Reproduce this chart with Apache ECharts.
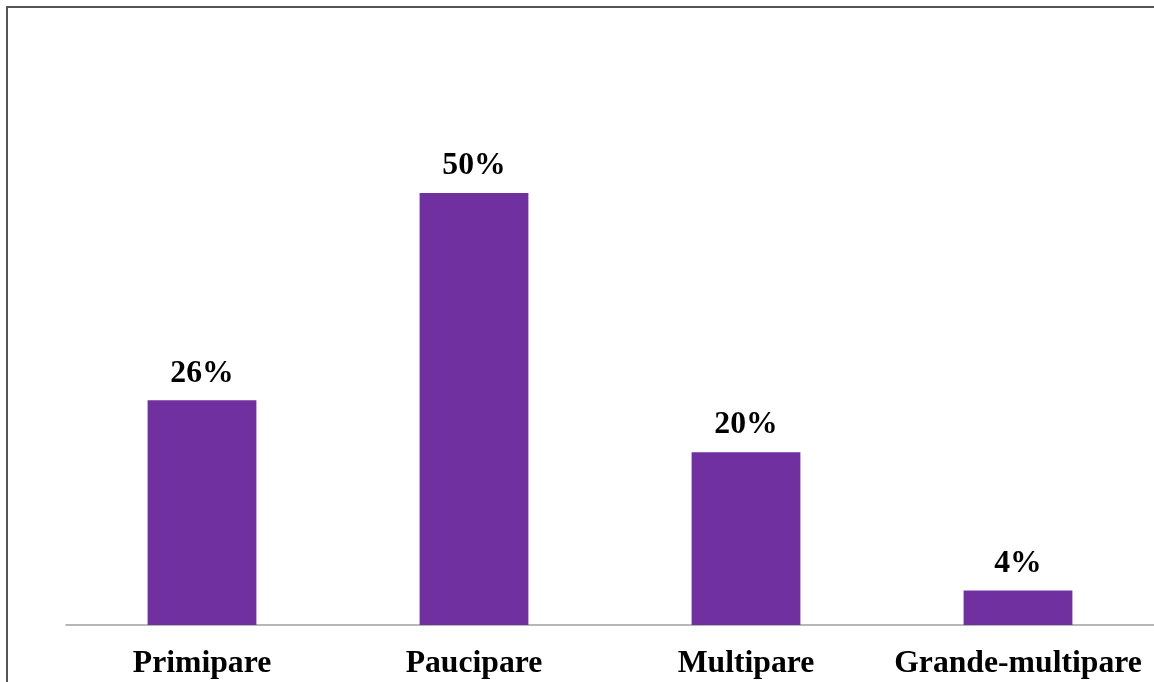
<!DOCTYPE html>
<html>
<head>
<meta charset="utf-8">
<script src="https://cdn.jsdelivr.net/npm/echarts@6/dist/echarts.min.js"></script>
<style>
html,body{margin:0;padding:0;background:#fff;}
#frame{position:absolute;left:6px;top:6px;width:1160px;height:690px;border-top:2px solid #555;border-left:2px solid #555;box-sizing:border-box;}
#chart{position:absolute;left:0;top:0;width:1154px;height:682px;}
</style>
</head>
<body>
<div id="frame"></div>
<div id="chart"></div>
<script>
const categories = ['Primipare', 'Paucipare', 'Multipare', 'Grande-multipare'];
const values = [26, 50, 20, 4];

const chart = echarts.init(document.getElementById('chart'));
chart.setOption({
  animation: false,
  grid: {left: 66, right: 0, top: 106.6, bottom: 57},
  xAxis: {
    type: 'category',
    data: categories,
    axisLine: {lineStyle: {color: '#a0a0a0', width: 1.5}},
    axisTick: {show: false},
    axisLabel: {
      color: '#000',
      fontFamily: '"Liberation Serif", "Times New Roman", serif',
      fontWeight: 'bold',
      fontSize: 31.7,
      margin: 23,
      interval: 0
    }
  },
  yAxis: {
    type: 'value',
    min: 0,
    max: 60,
    show: false,
    splitLine: {show: false}
  },
  series: [{
    type: 'bar',
    data: values,
    barWidth: '40%',
    itemStyle: {color: '#7030A0'},
    label: {
      show: true,
      position: 'top',
      distance: 11,
      formatter: '{c}%',
      color: '#000',
      fontFamily: '"Liberation Serif", "Times New Roman", serif',
      fontWeight: 'bold',
      fontSize: 31.7
    }
  }]
});
</script>
</body>
</html>
